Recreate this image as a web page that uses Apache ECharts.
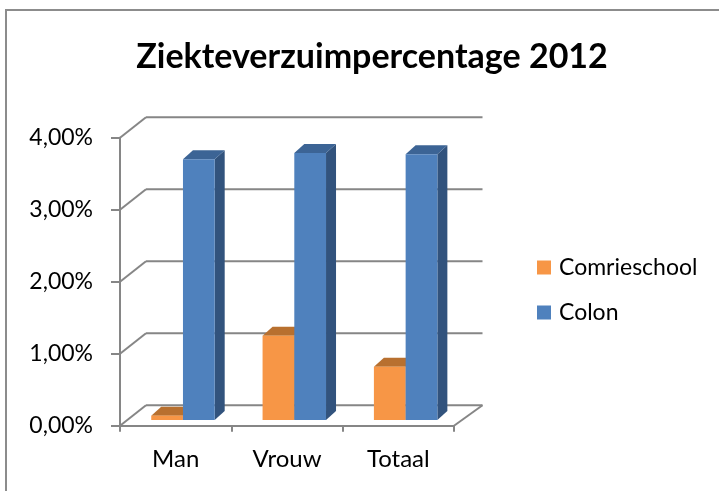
<!DOCTYPE html>
<html>
<head>
<meta charset="utf-8">
<script src="https://cdn.jsdelivr.net/npm/echarts@6/dist/echarts.min.js"></script>
<style>
  html, body { margin: 0; padding: 0; background: #ffffff; }
  #chart { width: 719px; height: 491px; }
</style>
</head>
<body>
<div id="chart"></div>
<script>
// ---- data ----
const categories = ['Man', 'Vrouw', 'Totaal'];
const comrieschool = [0.06, 1.17, 0.74];
const colon = [3.62, 3.71, 3.69];
const yTicks = [0, 1, 2, 3, 4];
const yTickLabels = ['0,00%', '1,00%', '2,00%', '3,00%', '4,00%'];
const chartTitle = 'Ziekteverzuimpercentage 2012';

// ---- style constants ----
const FONT = 'Lato';
const AXIS_GRAY = '#868686';
const WALL_DX_L = 26, WALL_DX_R = 28.5, WALL_DY = -20.5;
const PLANE_DX = 7.3, PLANE_DY = -5.7;
const BAR_DX = 10, BAR_DY = -9;
const BAR_FRAC = 0.285;

const chart = echarts.init(document.getElementById('chart'), null, { renderer: 'canvas' });

function wallRender(params, api) {
  const cs = params.coordSys;
  const v = api.value(1);
  const y = api.coord([0, v])[1];
  const x0 = cs.x, x1 = cs.x + cs.width;
  const st = { stroke: AXIS_GRAY, lineWidth: 2, fill: null };
  const children = [
    { type: 'line', shape: { x1: x0, y1: y, x2: x0 + WALL_DX_L, y2: y + WALL_DY }, style: st },
    { type: 'line', shape: { x1: x0 + WALL_DX_L, y1: y + WALL_DY, x2: x1 + WALL_DX_R, y2: y + WALL_DY }, style: st }
  ];
  if (v === 0) {
    children.push({ type: 'line', shape: { x1: x1, y1: y, x2: x1 + WALL_DX_R, y2: y + WALL_DY }, style: st });
  }
  return { type: 'group', children: children };
}

function makeBarRender(side, front, top, sideColor) {
  return function (params, api) {
    const i = api.value(0), v = api.value(1);
    const base = api.coord([i, 0]);
    const tp = api.coord([i, v]);
    const bw = api.size([1, 0])[0];
    const w = bw * BAR_FRAC;
    const xL = base[0] + PLANE_DX + (side < 0 ? -w : 0);
    const yB = base[1] + PLANE_DY;
    const yT = tp[1] + PLANE_DY;
    return {
      type: 'group',
      children: [
        { type: 'polygon', shape: { points: [[xL + w, yT], [xL + w + BAR_DX, yT + BAR_DY], [xL + w + BAR_DX, yB + BAR_DY], [xL + w, yB]] }, style: { fill: sideColor } },
        { type: 'polygon', shape: { points: [[xL, yT], [xL + w, yT], [xL + w + BAR_DX, yT + BAR_DY], [xL + BAR_DX, yT + BAR_DY]] }, style: { fill: top } },
        { type: 'rect', shape: { x: xL, y: yT, width: w, height: yB - yT }, style: { fill: front } }
      ]
    };
  };
}

const option = {
  backgroundColor: '#ffffff',
  animation: false,
  title: {
    text: chartTitle,
    left: 367,
    top: 35,
    textAlign: 'center',
    textStyle: { fontFamily: FONT, fontWeight: 'bold', fontSize: 34, color: '#000000' }
  },
  legend: {
    data: ['Comrieschool', 'Colon'],
    orient: 'vertical',
    left: 532,
    top: 251,
    itemWidth: 14,
    itemHeight: 14,
    itemGap: 22,
    icon: 'rect',
    textStyle: { fontFamily: FONT, fontSize: 23, color: '#000000', padding: [0, 0, 0, 3] }
  },
  graphic: [
    { type: 'rect', shape: { x: 6, y: 10, width: 730, height: 500 }, style: { fill: null, stroke: '#8c8c8c', lineWidth: 2 }, z: -10 }
  ],
  grid: { left: 120, top: 137.7, right: 265, bottom: 65.3, containLabel: false },
  xAxis: {
    type: 'category',
    data: categories,
    boundaryGap: true,
    axisLine: { show: true, lineStyle: { color: AXIS_GRAY, width: 2 } },
    axisTick: { show: true, length: 6, lineStyle: { color: AXIS_GRAY, width: 2 } },
    axisLabel: { fontFamily: FONT, fontSize: 24, color: '#000000', margin: 22 },
    splitLine: { show: false }
  },
  yAxis: {
    type: 'value',
    min: 0,
    max: 4,
    interval: 1,
    axisLine: { show: true, lineStyle: { color: AXIS_GRAY, width: 2 } },
    axisTick: { show: true, length: 9, lineStyle: { color: AXIS_GRAY, width: 2 } },
    axisLabel: {
      fontFamily: FONT, fontSize: 23, color: '#000000', margin: 27,
      formatter: function (v) { const k = yTicks.indexOf(v); return k >= 0 ? yTickLabels[k] : ''; }
    },
    splitLine: { show: false }
  },
  series: [
    {
      type: 'custom',
      silent: true,
      z: 1,
      data: yTicks.map(function (v) { return [0, v]; }),
      renderItem: wallRender
    },
    {
      name: 'Comrieschool',
      type: 'custom',
      z: 3,
      itemStyle: { color: '#F79646' },
      data: comrieschool.map(function (v, i) { return [i, v]; }),
      renderItem: makeBarRender(-1, '#F79646', '#B8702F', '#B8702F')
    },
    {
      name: 'Colon',
      type: 'custom',
      z: 4,
      itemStyle: { color: '#4F81BD' },
      data: colon.map(function (v, i) { return [i, v]; }),
      renderItem: makeBarRender(1, '#4F81BD', '#3C6495', '#32537D')
    }
  ]
};
chart.setOption(option);
</script>
</body>
</html>
